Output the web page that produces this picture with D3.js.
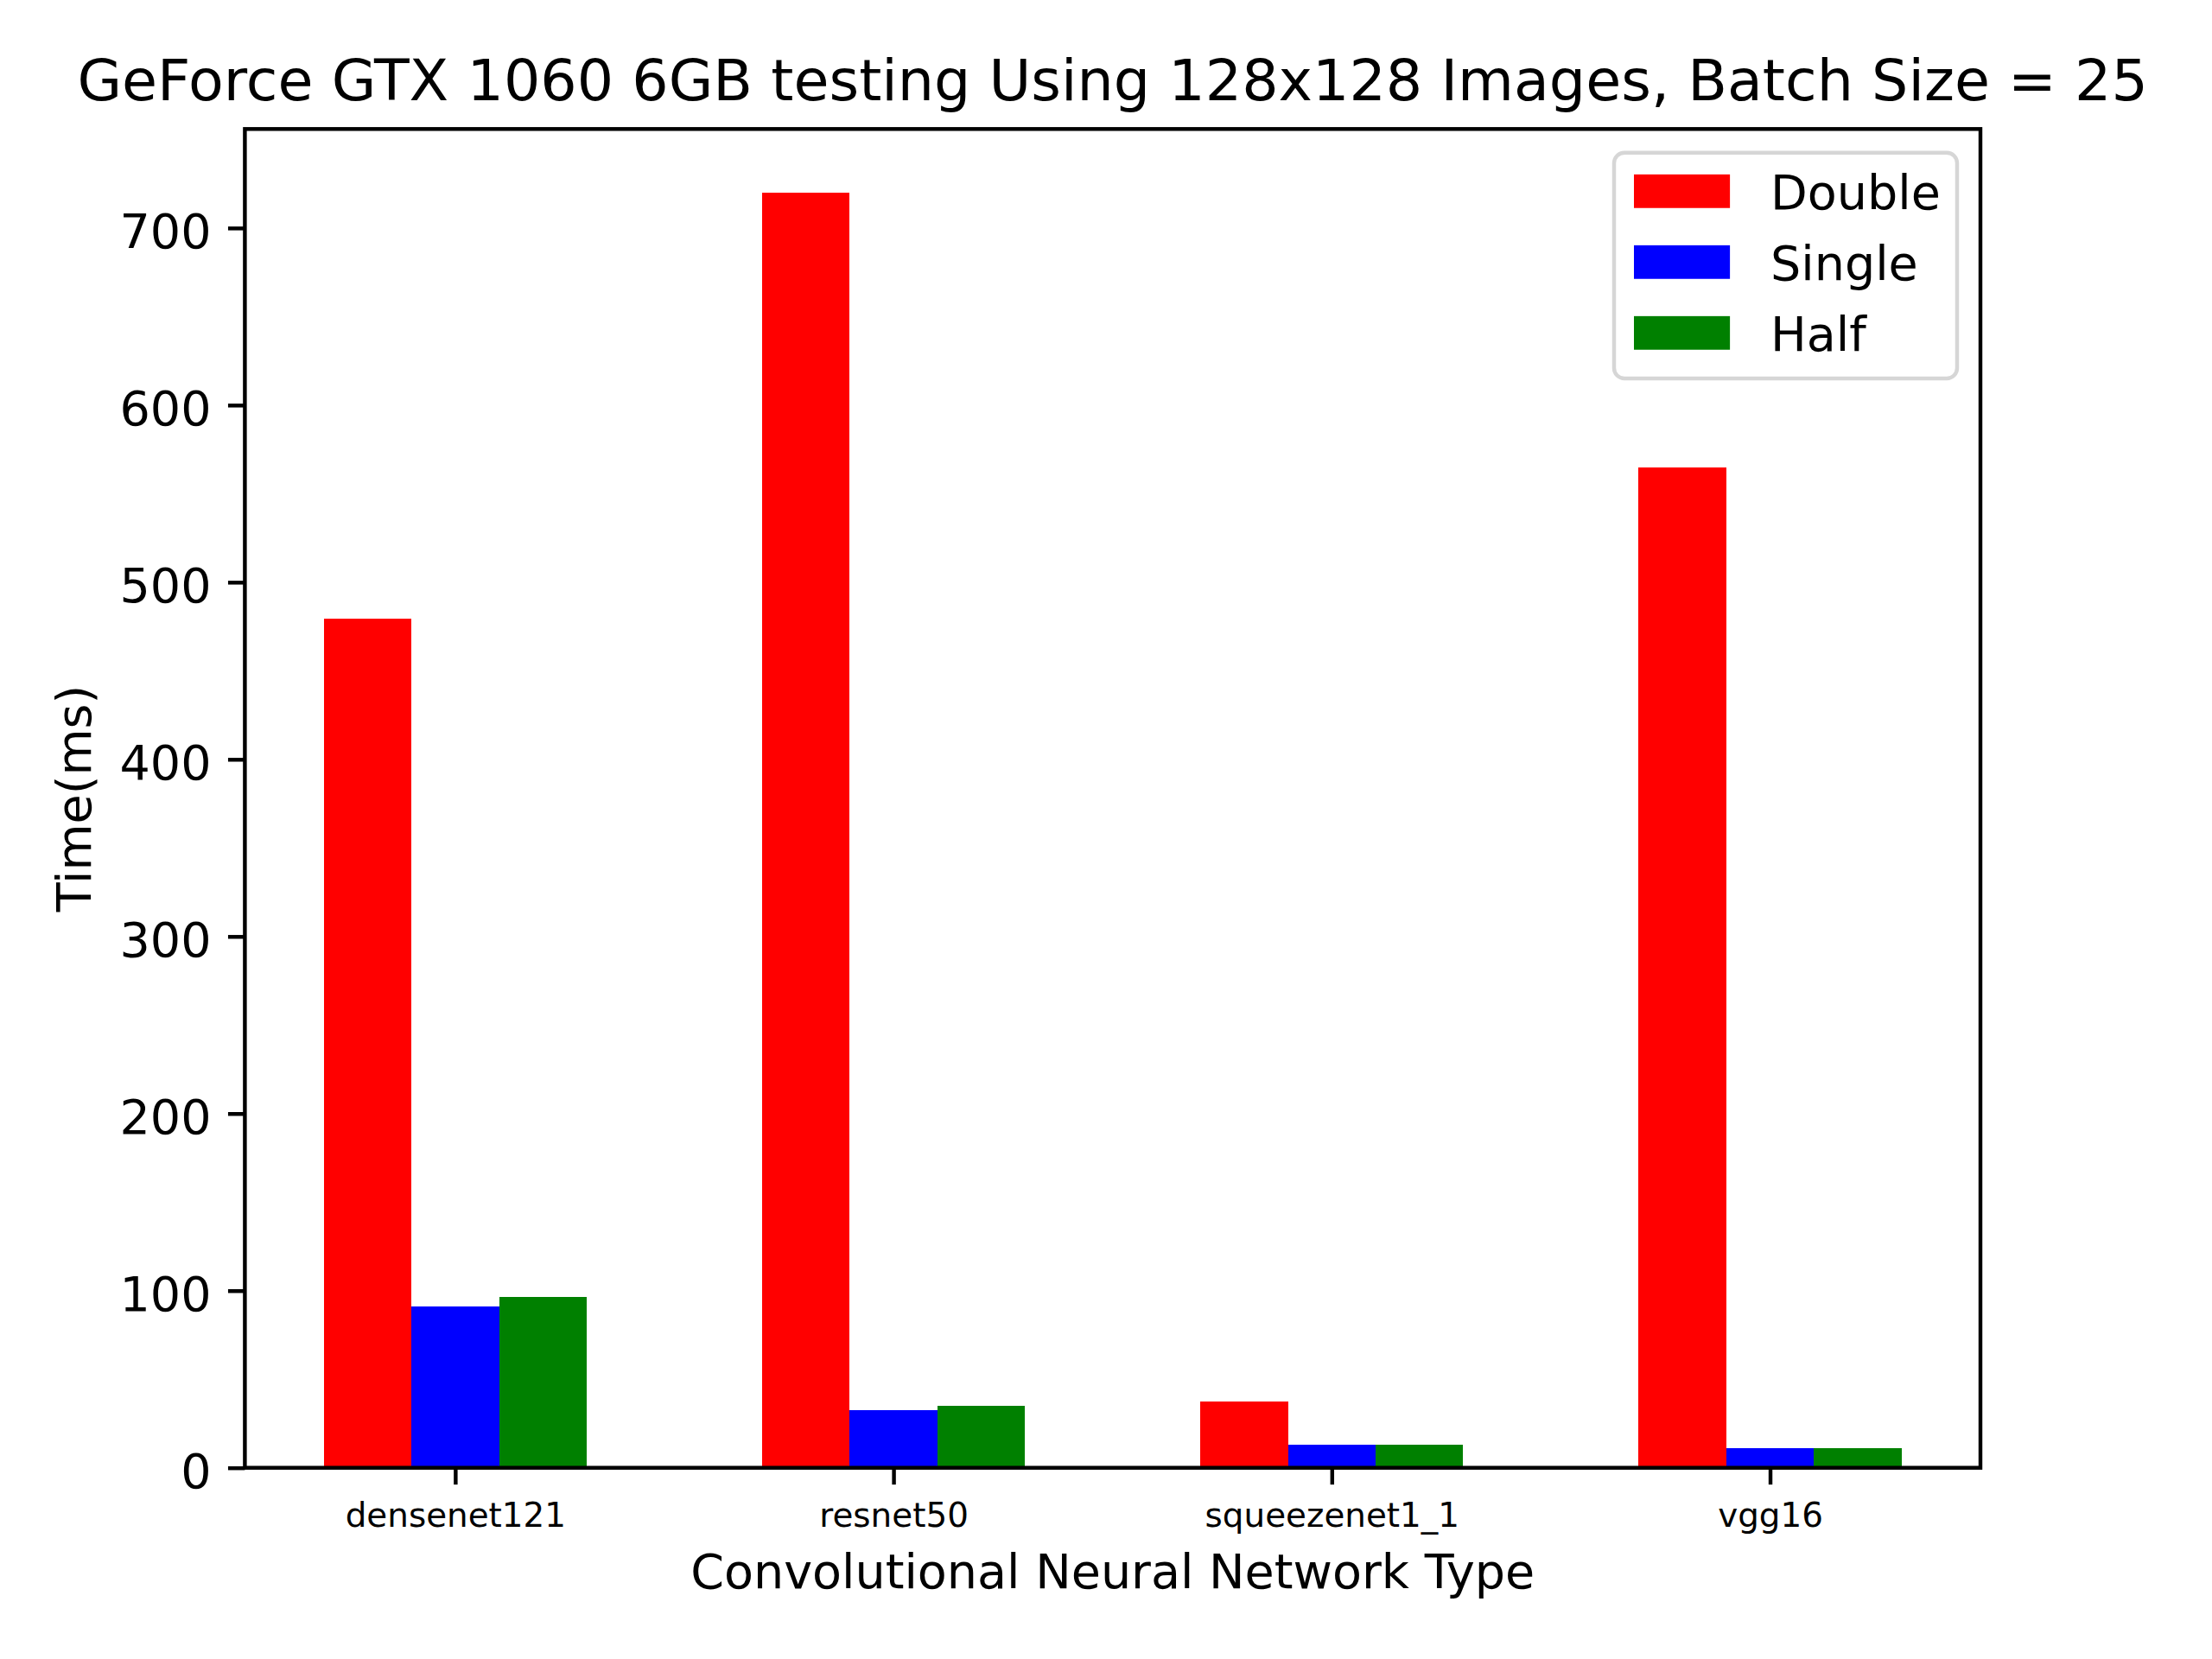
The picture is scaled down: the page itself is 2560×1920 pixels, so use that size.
<!DOCTYPE html>
<html>
<head>
<meta charset="utf-8">
<script src="https://cdn.jsdelivr.net/npm/d3@7"></script>
<style>
  body { margin: 0; background: #fff; }
  text { font-family: "DejaVu Sans", sans-serif; fill: #000; }
</style>
</head>
<body>
<div id="chart"></div>
<script>
// data
const networks = ["densenet121", "resnet50", "squeezenet1_1", "vgg16"];
const doubleTimes = [479.5, 719.9, 37.4, 564.7];
const singleTimes = [91.1, 32.5, 13.0, 11.1];
const halfTimes = [96.4, 35.0, 13.0, 11.1];
const seriesNames = ["Double", "Single", "Half"];
const seriesColors = ["#ff0000", "#0000ff", "#008000"];
const yTicks = [0, 100, 200, 300, 400, 500, 600, 700];

const W = 2560, H = 1920;
const pt = 400 / 72; // figure drawn at 400 dpi
const margin = {top: 149.3, right: W - 2292, bottom: H - 1698.7, left: 283.4};
const plotW = W - margin.left - margin.right;
const plotH = H - margin.top - margin.bottom;
const barW = 0.2;

const series = [doubleTimes, singleTimes, halfTimes];
const offsets = [-barW, 0, barW];

// flatten into one list of bars
let bars = [];
series.forEach(function(vals, s) {
    vals.forEach(function(v, i) {
        bars.push({s: s, i: i, v: v});
    });
});

const svg = d3.select("#chart").append("svg")
    .attr("width", W)
    .attr("height", H);

// x: categories at 0..n-1, matplotlib 5% margins
const xMin = -barW * 1.5, xMax = networks.length - 1 + barW * 1.5;
const xPad = (xMax - xMin) * 0.05;
const x = d3.scaleLinear()
    .domain([xMin - xPad, xMax + xPad])
    .range([0, plotW]);

const yMax = d3.max(bars, function(d) { return d.v; }) * 1.05;
const y = d3.scaleLinear()
    .domain([0, yMax])
    .range([plotH, 0]);

const g = svg.append("g")
    .attr("transform", "translate(" + margin.left + "," + margin.top + ")");

g.selectAll(".bar").data(bars)
    .enter()
    .append("rect")
    .attr("class", "bar")
    .attr("x", function(d) { return x(d.i + offsets[d.s] - barW / 2); })
    .attr("width", function(d) { return x(barW) - x(0); })
    .attr("y", function(d) { return y(d.v); })
    .attr("height", function(d) { return y(0) - y(d.v); })
    .attr("fill", function(d) { return seriesColors[d.s]; })
    .attr("shape-rendering", "crispEdges");

// axes
const tickLen = 3.5 * pt;
const yAxis = d3.axisLeft(y)
    .tickValues(yTicks)
    .tickFormat(d3.format("d"))
    .tickSize(tickLen)
    .tickSizeOuter(0)
    .tickPadding(3.5 * pt);

const yAxisG = g.append("g").call(yAxis);
yAxisG.select(".domain").remove();
yAxisG.selectAll("line").attr("stroke", "#000").attr("stroke-width", 0.8 * pt);
yAxisG.selectAll("text")
    .attr("font-size", 10 * pt)
    .attr("font-family", "DejaVu Sans")
    .attr("dy", "0.41em");

const xAxis = d3.axisBottom(x)
    .tickValues(d3.range(networks.length))
    .tickFormat(function(d) { return networks[d]; })
    .tickSize(tickLen)
    .tickSizeOuter(0)
    .tickPadding(3.5 * pt);

const xAxisG = g.append("g")
    .attr("transform", "translate(0," + plotH + ")")
    .call(xAxis);
xAxisG.select(".domain").remove();
xAxisG.selectAll("line").attr("stroke", "#000").attr("stroke-width", 0.8 * pt);
xAxisG.selectAll("text")
    .attr("font-size", 7 * pt)
    .attr("font-family", "DejaVu Sans")
    .attr("dy", "0.76em");

// frame (spines)
g.append("rect")
    .attr("x", 0)
    .attr("y", 0)
    .attr("width", plotW)
    .attr("height", plotH)
    .attr("fill", "none")
    .attr("stroke", "#000")
    .attr("stroke-width", 0.8 * pt);

// titles
svg.append("text")
    .attr("x", margin.left + plotW / 2)
    .attr("y", 116)
    .attr("text-anchor", "middle")
    .attr("font-size", 12 * pt)
    .text("GeForce GTX 1060 6GB testing Using 128x128 Images, Batch Size = 25");

svg.append("text")
    .attr("x", margin.left + plotW / 2)
    .attr("y", 1838)
    .attr("text-anchor", "middle")
    .attr("font-size", 10 * pt)
    .text("Convolutional Neural Network Type");

svg.append("text")
    .attr("transform", "translate(105," + (margin.top + plotH / 2) + ") rotate(-90)")
    .attr("text-anchor", "middle")
    .attr("font-size", 10 * pt)
    .text("Time(ms)");

// legend
const legend = svg.append("g");
legend.append("rect")
    .attr("x", 1868)
    .attr("y", 176.7)
    .attr("width", 2265 - 1868)
    .attr("height", 438 - 176.7)
    .attr("rx", 12)
    .attr("fill", "#fff")
    .attr("fill-opacity", 0.8)
    .attr("stroke", "#cccccc")
    .attr("stroke-opacity", 0.8)
    .attr("stroke-width", 0.8 * pt);

const item = legend.selectAll(".item").data(seriesNames)
    .enter()
    .append("g")
    .attr("class", "item")
    .attr("transform", function(d, i) {
        return "translate(1891," + (221.3 + i * 82) + ")";
    });
item.append("rect")
    .attr("x", 0)
    .attr("y", -0.35 * 10 * pt)
    .attr("width", 2 * 10 * pt)
    .attr("height", 0.7 * 10 * pt)
    .attr("fill", function(d, i) { return seriesColors[i]; });
item.append("text")
    .attr("x", 2049 - 1891)
    .attr("y", 20.4)
    .attr("font-size", 10 * pt)
    .text(function(d) { return d; });
</script>
</body>
</html>
